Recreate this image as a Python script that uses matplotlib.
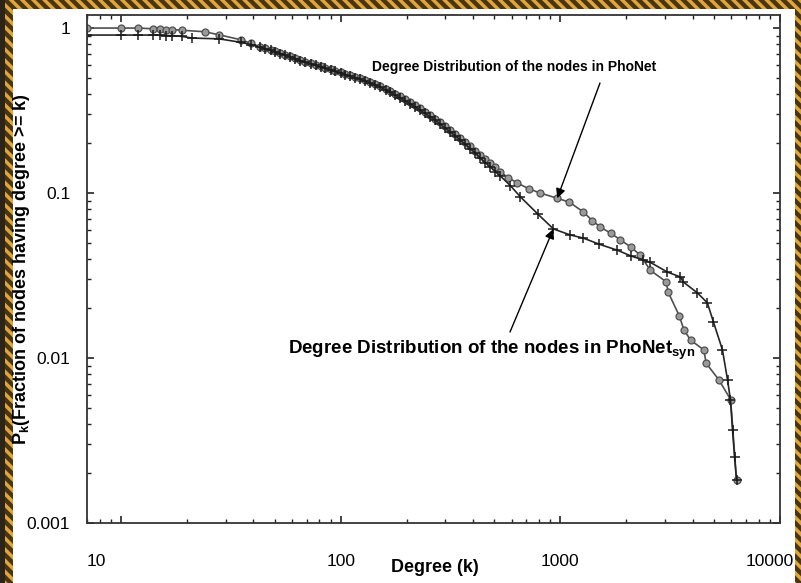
import matplotlib
matplotlib.use("Agg")
import matplotlib.pyplot as plt
import matplotlib.transforms as mtransforms
from matplotlib.patches import Rectangle
from matplotlib.ticker import FixedLocator, NullFormatter, LogLocator

plt.rcParams['font.family'] = ['Liberation Sans', 'DejaVu Sans']
plt.rcParams['mathtext.fontset'] = 'custom'
plt.rcParams['mathtext.rm'] = 'Liberation Sans'
plt.rcParams['mathtext.bf'] = 'Liberation Sans:bold'
plt.rcParams['hatch.linewidth'] = 2.5

# Cumulative degree distribution of PhoNet (k, fraction of nodes with degree >= k)
degree_phonet = [7, 10, 12, 14, 15, 16, 17, 19, 24, 28, 35, 39, 43, 45, 48, 50, 53, 56,
                 59, 62, 65, 69, 73, 77, 81, 85, 90, 94, 100, 105, 110, 116, 123, 129,
                 136, 144, 151, 160, 168, 177, 187, 197, 207, 218, 230, 243, 256, 270,
                 284, 299, 316, 333, 350, 369, 389, 410, 432, 455, 480, 506, 533, 580,
                 637, 720, 810, 968, 1100, 1274, 1400, 1520, 1700, 1876, 2100, 2310,
                 2570, 3030, 3100, 3480, 3660, 3930, 4500, 4610, 5260, 5960, 6340]
frac_phonet = [1.0, 1.0, 1.0, 0.99, 0.99, 0.98, 0.98, 0.97, 0.95, 0.91, 0.85, 0.81, 0.77,
               0.755, 0.74, 0.725, 0.706, 0.69, 0.675, 0.657, 0.64, 0.626, 0.613, 0.60,
               0.589, 0.575, 0.563, 0.552, 0.541, 0.53, 0.519, 0.508, 0.498, 0.485, 0.471,
               0.458, 0.445, 0.43, 0.415, 0.40, 0.387, 0.371, 0.356, 0.341, 0.327, 0.312,
               0.297, 0.283, 0.269, 0.255, 0.241, 0.228, 0.216, 0.204, 0.193, 0.181,
               0.170, 0.161, 0.152, 0.143, 0.134, 0.124, 0.115, 0.106, 0.10, 0.093,
               0.088, 0.0767, 0.068, 0.0622, 0.057, 0.052, 0.047, 0.042, 0.034, 0.029,
               0.025, 0.018, 0.0147, 0.0128, 0.0112, 0.0093, 0.0074, 0.0056, 0.00182]

# Cumulative degree distribution of the synthetic network PhoNet_syn
degree_syn = [7, 10, 12, 14, 15, 16, 17, 19, 21, 28, 35, 39, 43, 45, 48, 50, 53, 56, 59,
              62, 65, 69, 73, 77, 81, 85, 90, 94, 100, 105, 110, 116, 123, 129, 136, 144,
              151, 160, 168, 177, 187, 197, 207, 218, 230, 243, 256, 270, 284, 299, 316,
              333, 350, 369, 389, 410, 432, 455, 480, 506, 533, 592, 657, 789, 930, 1110,
              1274, 1500, 1820, 2100, 2390, 2570, 3070, 3520, 3630, 4210, 4670, 4980,
              5470, 5770, 5950, 6080, 6210, 6340]
frac_syn = [0.907, 0.907, 0.907, 0.907, 0.905, 0.90, 0.90, 0.89, 0.87, 0.86, 0.82, 0.795,
            0.765, 0.75, 0.735, 0.72, 0.70, 0.685, 0.668, 0.652, 0.635, 0.62, 0.607, 0.594,
            0.582, 0.569, 0.557, 0.546, 0.533, 0.522, 0.511, 0.50, 0.49, 0.477, 0.464,
            0.451, 0.438, 0.423, 0.408, 0.393, 0.377, 0.362, 0.348, 0.333, 0.318, 0.304,
            0.29, 0.276, 0.262, 0.248, 0.235, 0.222, 0.21, 0.198, 0.186, 0.175, 0.163,
            0.153, 0.144, 0.135, 0.127, 0.111, 0.095, 0.0747, 0.0606, 0.0557, 0.0533,
            0.049, 0.045, 0.0415, 0.0393, 0.038, 0.0332, 0.031, 0.0289, 0.0248, 0.0216,
            0.0165, 0.0112, 0.00736, 0.00556, 0.00366, 0.00251, 0.00182]

x_ticks = [10, 100, 1000, 10000]
x_ticklabels = ['10', '100', '1000', '10000']
y_ticks = [0.001, 0.01, 0.1, 1]
y_ticklabels = ['0.001', '0.01', '0.1', '1']

W, H = 801, 583
fig = plt.figure(figsize=(W / 100, H / 100), dpi=100)
fig.patch.set_facecolor('#2b2419')


def frame_rect(x0, y0, x1, y1, **kw):
    # rectangle given in pixel coordinates measured from the top-left corner
    return Rectangle((x0 / W, 1 - y1 / H), (x1 - x0) / W, (y1 - y0) / H,
                     transform=fig.transFigure, **kw)


fig.add_artist(frame_rect(5, 0, W + 2, H + 2, facecolor='#4a3512', zorder=-3,
                          edgecolor='#e0a63c', hatch='\\\\\\', linewidth=0))
fig.add_artist(frame_rect(13, 9, 795, H + 2, facecolor='white', linewidth=0,
                          zorder=-2))

ax = fig.add_axes([87 / W, 1 - 523 / H, (780 - 87) / W, (523 - 15) / H])
ax.patch.set_alpha(0)
ax.set_xscale('log')
ax.set_yscale('log')
ax.set_xlim(7.0, 10000)
ax.set_ylim(0.001, 1.2)

ax.plot(degree_phonet, frac_phonet, color='#505050', lw=1.2, marker='o', ms=5,
        mfc='#9a9a9a', mec='#505050', mew=0.9)
ax.plot(degree_syn, frac_syn, color='#262626', lw=1.2, marker='+', ms=7,
        mec='#1a1a1a', mew=1.1)

ax.xaxis.set_major_locator(FixedLocator(x_ticks))
ax.set_xticklabels(x_ticklabels)
ax.yaxis.set_major_locator(FixedLocator(y_ticks))
ax.set_yticklabels(y_ticklabels)
ax.xaxis.set_minor_locator(LogLocator(base=10, subs=range(2, 10)))
ax.yaxis.set_minor_locator(LogLocator(base=10, subs=range(2, 10)))
ax.xaxis.set_minor_formatter(NullFormatter())
ax.yaxis.set_minor_formatter(NullFormatter())
ax.tick_params(which='both', direction='in', top=True, right=True, color='#222222')
ax.tick_params(which='major', length=5, width=1.2, labelsize=12.5)
ax.tick_params(which='minor', length=3, width=1.0)
ax.tick_params(axis='x', which='major', pad=22)
ax.tick_params(axis='y', which='major', pad=12)
for s in ax.spines.values():
    s.set_linewidth(1.3)
    s.set_color('#333333')

# the outer x tick labels sit slightly inward of their ticks
xlabels = ax.get_xticklabels()
xlabels[0].set_transform(xlabels[0].get_transform() +
                         mtransforms.ScaledTranslation(-25 / 100, 0, fig.dpi_scale_trans))
xlabels[-1].set_transform(xlabels[-1].get_transform() +
                          mtransforms.ScaledTranslation(-10 / 100, 0, fig.dpi_scale_trans))

ax.set_xlabel('Degree (k)', fontsize=13, fontweight='bold')
ax.xaxis.set_label_coords((435 - 87) / (780 - 87), -(568 - 523) / (523 - 15))
ax.xaxis.label.set_va('center')
ax.set_ylabel(r'P$_\mathbf{k}$(Fraction of nodes having degree >= k)',
              fontsize=13, fontweight='bold')
ax.yaxis.set_label_coords(-(87 - 22) / (780 - 87), 0.5)
ax.yaxis.label.set_va('center')

ax.text(514, H - 67, 'Degree Distribution of the nodes in PhoNet',
        transform=None, fontsize=10, fontweight='bold', ha='center', va='center')
ax.text(288, H - 350, r'Degree Distribution of the nodes in PhoNet$_\mathbf{syn}$',
        transform=None, fontsize=13.5, fontweight='bold', ha='left', va='center')

arrow = dict(arrowstyle='-|>', color='black', lw=1.0, shrinkA=0, shrinkB=0,
             mutation_scale=14)
ax.annotate('', xy=(968, 0.093), xytext=(600, H - 83), textcoords='figure pixels',
            arrowprops=arrow)
ax.annotate('', xy=(929, 0.0605), xytext=(510, H - 332), textcoords='figure pixels',
            arrowprops=arrow)

fig.savefig('out.png', dpi=100, facecolor=fig.get_facecolor())
